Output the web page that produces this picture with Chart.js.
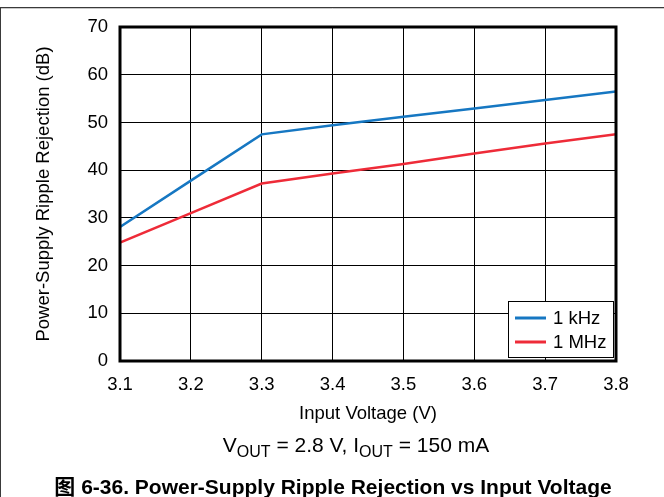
<!DOCTYPE html>
<html>
<head>
<meta charset="utf-8">
<script src="https://cdn.jsdelivr.net/npm/chart.js@4"></script>
<style>
  html, body { margin: 0; padding: 0; background: #fff; }
  canvas { display: block; }
</style>
</head>
<body>
<canvas id="c" width="664" height="497"></canvas>
<script>
// ---- data ----
const inputVoltage = [3.1, 3.2, 3.3, 3.4, 3.5, 3.6, 3.7, 3.8];
const psrr1kHz     = [28.1, 37.8, 47.5, 49.4, 51.2, 52.9, 54.7, 56.5];
const psrr1MHz     = [24.8, 31.0, 37.2, 39.3, 41.3, 43.5, 45.6, 47.5];
const seriesNames  = ['1 kHz', '1 MHz'];
const xTickValues  = [3.1, 3.2, 3.3, 3.4, 3.5, 3.6, 3.7, 3.8];
const yTickValues  = [0, 10, 20, 30, 40, 50, 60, 70];
const xTitle = 'Input Voltage (V)';
const yTitle = 'Power-Supply Ripple Rejection (dB)';
const captionText = '图 6-36. Power-Supply Ripple Rejection vs Input Voltage';

const BLUE = '#1677c2';
const RED = '#ee2b38';
const FONT = '"Liberation Sans", Arial, Helvetica, sans-serif';
const FS = 18.5;

Chart.defaults.color = '#000';
Chart.defaults.font.family = FONT;

const toPts = (xs, ys) => xs.map((x, i) => ({ x: x, y: ys[i] }));

const decorPlugin = {
  id: 'decor',
  afterDatasetsDraw(chart) {
    const { ctx, chartArea: a } = chart;
    ctx.save();
    // plot frame
    ctx.strokeStyle = '#000';
    ctx.lineWidth = 3;
    ctx.strokeRect(a.left, a.top, a.right - a.left, a.bottom - a.top);

    // legend box
    const lx = 508, ly = 301, lw = 105, lh = 56;
    ctx.fillStyle = '#fff';
    ctx.fillRect(lx, ly, lw, lh);
    ctx.lineWidth = 1;
    ctx.strokeStyle = '#000';
    ctx.strokeRect(lx + 0.5, ly + 0.5, lw, lh);
    const colors = [BLUE, RED];
    const rows = [318, 342];
    ctx.font = FS + 'px ' + FONT;
    ctx.textBaseline = 'middle';
    ctx.textAlign = 'left';
    seriesNames.forEach((name, i) => {
      ctx.strokeStyle = colors[i];
      ctx.lineWidth = 3;
      ctx.beginPath();
      ctx.moveTo(515, rows[i]);
      ctx.lineTo(546, rows[i]);
      ctx.stroke();
      ctx.fillStyle = '#000';
      ctx.fillText(name, 553, rows[i] + 1);
    });
    ctx.restore();
  },
  afterDraw(chart) {
    const { ctx } = chart;
    ctx.save();
    // outer figure frame (top & left)
    ctx.lineWidth = 1;
    ctx.strokeStyle = '#3a3a3a';
    ctx.beginPath();
    ctx.moveTo(0, 7.5); ctx.lineTo(664, 7.5);
    ctx.moveTo(0.5, 7.5); ctx.lineTo(0.5, 497);
    ctx.stroke();
    ctx.strokeStyle = '#c8c8c8';
    ctx.beginPath();
    ctx.moveTo(1, 8.5); ctx.lineTo(664, 8.5);
    ctx.stroke();

    // conditions line with subscripts
    const mainF = '21px ' + FONT;
    const subF = '16px ' + FONT;
    const parts = [
      ['V', mainF, 0], ['OUT', subF, 5], [' = 2.8 V, I', mainF, 0], ['OUT', subF, 5], [' = 150 mA', mainF, 0]
    ];
    let total = 0;
    parts.forEach(p => { ctx.font = p[1]; total += ctx.measureText(p[0]).width; });
    let x = 356 - total / 2;
    const base = 452;
    ctx.fillStyle = '#000';
    ctx.textBaseline = 'alphabetic';
    ctx.textAlign = 'left';
    parts.forEach(p => {
      ctx.font = p[1];
      ctx.fillText(p[0], x, base + p[2]);
      x += ctx.measureText(p[0]).width;
    });

    // caption
    ctx.font = 'bold 21px "Liberation Sans", Arial, "Noto Sans CJK SC", sans-serif';
    ctx.textAlign = 'center';
    ctx.fillText(captionText, 333, 494);
    ctx.restore();
  }
};

new Chart(document.getElementById('c'), {
  type: 'line',
  data: {
    datasets: [
      { label: seriesNames[0], data: toPts(inputVoltage, psrr1kHz), borderColor: BLUE, borderWidth: 2.5, pointRadius: 0, tension: 0, fill: false },
      { label: seriesNames[1], data: toPts(inputVoltage, psrr1MHz), borderColor: RED, borderWidth: 2.5, pointRadius: 0, tension: 0, fill: false }
    ]
  },
  options: {
    responsive: false,
    animation: false,
    devicePixelRatio: 1,
    layout: { padding: { left: 0, right: 48, top: 27, bottom: 72 } },
    plugins: { legend: { display: false }, tooltip: { enabled: false } },
    scales: {
      x: {
        type: 'linear',
        min: xTickValues[0],
        max: xTickValues[xTickValues.length - 1],
        afterBuildTicks: s => { s.ticks = xTickValues.map(v => ({ value: v })); },
        afterFit: s => { s.height = 64; },
        ticks: { font: { size: FS }, padding: 13, maxRotation: 0, autoSkip: false, callback: v => Number(v).toFixed(1) },
        grid: { color: '#000', lineWidth: 1, drawTicks: false },
        border: { display: false },
        title: { display: true, text: xTitle, font: { size: FS }, padding: { top: 0, bottom: 0 } }
      },
      y: {
        min: yTickValues[0],
        max: yTickValues[yTickValues.length - 1],
        afterBuildTicks: s => { s.ticks = yTickValues.map(v => ({ value: v })); },
        afterFit: s => { s.width = 120; },
        ticks: { font: { size: FS }, padding: 12, autoSkip: false },
        grid: { color: '#000', lineWidth: 1, drawTicks: false },
        border: { display: false },
        title: { display: true, text: yTitle, font: { size: FS }, padding: { top: 33, bottom: 0 } }
      }
    }
  },
  plugins: [decorPlugin]
});
</script>
</body>
</html>
